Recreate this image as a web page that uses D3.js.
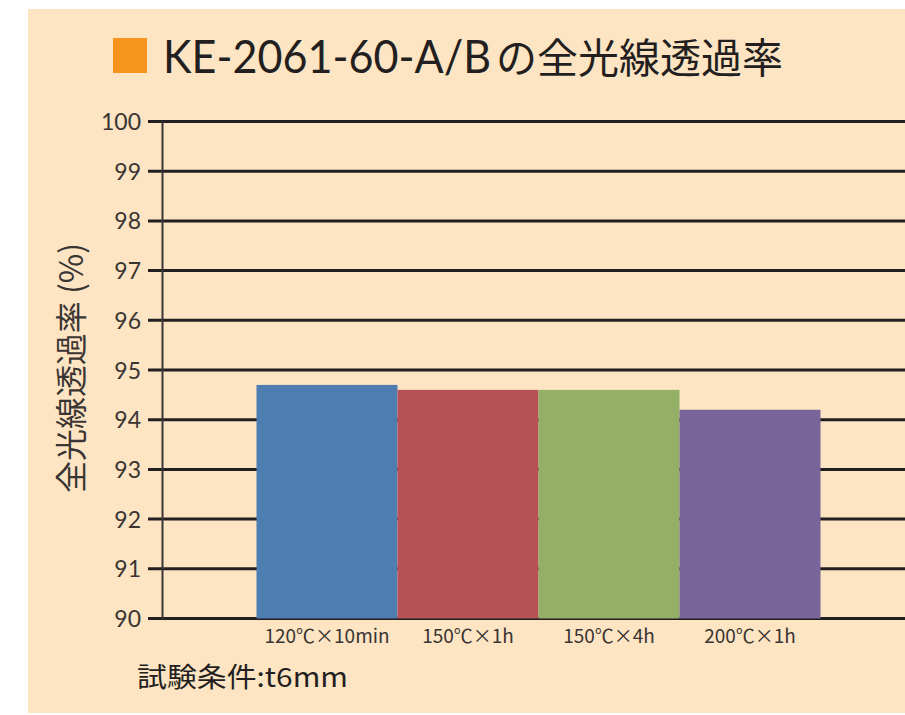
<!DOCTYPE html>
<html>
<head>
<meta charset="utf-8">
<script src="https://cdn.jsdelivr.net/npm/d3@7"></script>
<style>
  html, body { margin: 0; padding: 0; background: #ffffff; }
  svg { display: block; }
</style>
</head>
<body>
<script>
// ---- data ----
const categories = ["120℃×10min", "150℃×1h", "150℃×4h", "200℃×1h"];
const values = [94.7, 94.6, 94.6, 94.2];
const barColors = ["#4d7db1", "#b55256", "#93b066", "#7a659b"];
const yTicks = [90, 91, 92, 93, 94, 95, 96, 97, 98, 99, 100];
const titleLatin = "KE-2061-60-A/B";
const titleJa = "の全光線透過率";
const yLabel = "全光線透過率 (%)";
const note = "試験条件:t6mm";

const W = 905, H = 715;
const ink = "#231f20";
const svg = d3.select("body").append("svg").attr("width", W).attr("height", H);

// background panel
svg.append("rect").attr("x", 28).attr("y", 9).attr("width", W - 28).attr("height", 704).attr("fill", "#fde5c4");

const y = d3.scaleLinear().domain([90, 100]).range([618.5, 121.5]);
const x = d3.scaleBand().domain(categories).range([256.5, 820.5]).padding(0);

// gridlines with tick stubs
svg.append("g").selectAll("line").data(yTicks).join("line")
  .attr("x1", 148).attr("x2", W)
  .attr("y1", d => y(d)).attr("y2", d => y(d))
  .attr("stroke", ink).attr("stroke-width", 3);

// y axis line
svg.append("line").attr("x1", 162.5).attr("x2", 162.5)
  .attr("y1", y(100)).attr("y2", y(90) + 1)
  .attr("stroke", "#3b3634").attr("stroke-width", 2);

// tick labels
svg.append("g").selectAll("text").data(yTicks).join("text")
  .attr("x", 141).attr("y", d => y(d) + 8.5)
  .attr("text-anchor", "end")
  .attr("font-family", "Lato, 'Liberation Sans', sans-serif")
  .attr("font-size", 23).attr("fill", "#3a3432")
  .text(d => d);

// bars
svg.append("g").selectAll("rect").data(values).join("rect")
  .attr("x", (d, i) => x(categories[i]))
  .attr("width", x.bandwidth())
  .attr("y", d => y(d))
  .attr("height", d => y(90) - y(d))
  .attr("fill", (d, i) => barColors[i]);

// x labels
svg.append("g").selectAll("text").data(categories).join("text")
  .attr("x", d => x(d) + x.bandwidth() / 2).attr("y", 643)
  .attr("text-anchor", "middle")
  .attr("font-family", "'Noto Sans CJK JP', sans-serif")
  .attr("font-size", 19).attr("fill", "#3a3432")
  .text(d => d);

// title
svg.append("rect").attr("x", 113).attr("y", 38).attr("width", 34).attr("height", 35).attr("fill", "#f7941d");
const t = svg.append("text").attr("y", 73).attr("fill", ink);
t.append("tspan").attr("x", 163)
  .attr("font-family", "Lato, 'Liberation Sans', sans-serif")
  .attr("font-size", 46)
  .attr("textLength", 328).attr("lengthAdjust", "spacingAndGlyphs")
  .text(titleLatin);
t.append("tspan").attr("x", 496)
  .attr("font-family", "'Noto Sans CJK JP', sans-serif")
  .attr("font-size", 41)
  .text(titleJa);

// y label
svg.append("text")
  .attr("transform", "translate(83,368) rotate(-90)")
  .attr("text-anchor", "middle")
  .attr("font-family", "'Noto Sans CJK JP', sans-serif")
  .attr("font-size", 32).attr("fill", "#3a3432")
  .attr("textLength", 250).attr("lengthAdjust", "spacingAndGlyphs")
  .text(yLabel);

// note
svg.append("text").attr("x", 137).attr("y", 687)
  .attr("font-family", "'Noto Sans CJK JP', sans-serif")
  .attr("font-size", 27).attr("fill", ink)
  .attr("textLength", 211).attr("lengthAdjust", "spacingAndGlyphs")
  .text(note);
</script>
</body>
</html>
